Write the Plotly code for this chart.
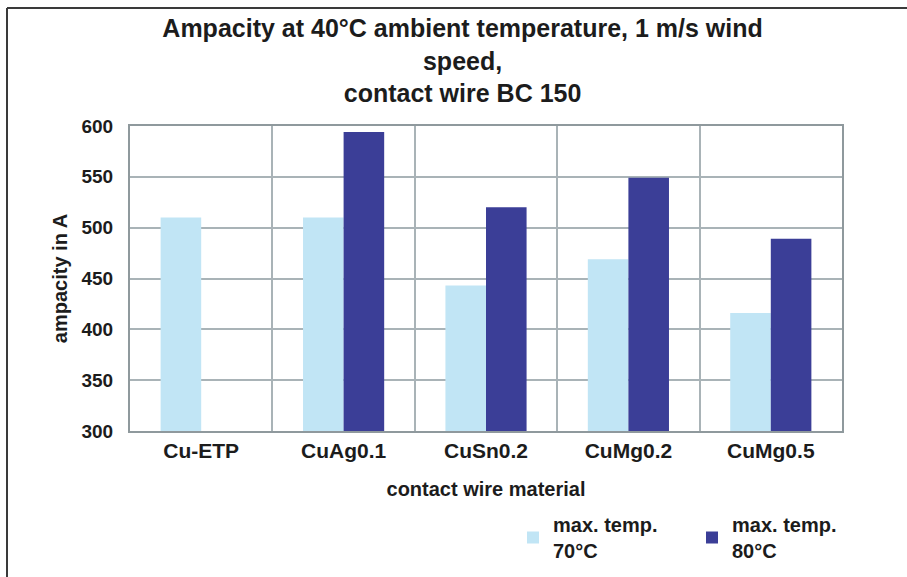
import plotly.graph_objects as go

categories = ["Cu-ETP", "CuAg0.1", "CuSn0.2", "CuMg0.2", "CuMg0.5"]
temp70 = [510, 510, 443, 469, 416]
temp80 = [None, 594, 520, 549, 489]
series_names = ["max. temp.<br>70°C", "max. temp.<br>80°C"]
y_ticks = [300, 350, 400, 450, 500, 550, 600]

FONT = "Liberation Sans, Arial, sans-serif"
TXT = "#1c1c1c"

fig = go.Figure()
fig.add_trace(go.Bar(x=categories, y=temp70, name=series_names[0],
                     marker=dict(color="#c1e5f5", line=dict(width=0))))
fig.add_trace(go.Bar(x=categories, y=temp80, name=series_names[1],
                     marker=dict(color="#3b3e97", line=dict(width=0))))

W, H = 907, 577
L, R, T, B = 130, 65, 126, 146
pw, ph = W - L - R, H - T - B

def px2x(px):
    return (px - L) / pw

def py2y(py):
    return (H - B - py) / ph

frame_x = px2x(7)
frame_y = py2y(8)

fig.update_layout(
    width=W, height=H,
    margin=dict(l=L, r=R, t=T, b=B, pad=0, autoexpand=False),
    paper_bgcolor="white", plot_bgcolor="white",
    font=dict(family=FONT, color=TXT, size=20),
    barmode="group", bargap=0.43, bargroupgap=0,
    title=dict(
        text="<b>Ampacity at 40°C ambient temperature, 1 m/s wind<br>speed,<br>contact wire BC 150</b>",
        x=0.51, xref="container", xanchor="center",
        y=1 - 37 / H, yref="container", yanchor="top",
        font=dict(size=25, family=FONT, color=TXT),
    ),
    xaxis=dict(
        type="category", tickson="boundaries", automargin=False,
        showgrid=True, gridcolor="#a9b3b7", gridwidth=1.5,
        showline=True, linecolor="#8f999d", linewidth=2, mirror=True,
        ticks="", ticklabelstandoff=0,
        tickfont=dict(size=21, family=FONT, color=TXT, weight="bold"),
        title=dict(text="<b>contact wire material</b>", standoff=21,
                   font=dict(size=20, family=FONT, color=TXT)),
    ),
    yaxis=dict(
        range=[300, 600], tickvals=y_ticks, automargin=False,
        showgrid=True, gridcolor="#a9b3b7", gridwidth=1.5,
        showline=True, linecolor="#8f999d", linewidth=2, mirror=True,
        ticks="outside", ticklen=11, tickcolor="rgba(0,0,0,0)",
        tickfont=dict(size=19, family=FONT, color=TXT, weight="bold"),
        title=dict(text="<b>ampacity in A</b>", standoff=8,
                   font=dict(size=20, family=FONT, color=TXT)),
        zeroline=False,
    ),
    legend=dict(
        orientation="h", x=px2x(513), y=py2y(505), xanchor="left", yanchor="top",
        font=dict(size=20, family=FONT, color=TXT, weight="bold"),
        entrywidth=134, entrywidthmode="pixels",
        bgcolor="rgba(0,0,0,0)", itemclick=False,
    ),
    shapes=[
        dict(type="line", xref="paper", yref="paper", x0=frame_x, x1=px2x(W + 5),
             y0=frame_y, y1=frame_y, line=dict(color="#3a3a3a", width=2)),
        dict(type="line", xref="paper", yref="paper", x0=frame_x, x1=frame_x,
             y0=frame_y, y1=py2y(H + 5), line=dict(color="#3a3a3a", width=2)),
    ],
)

fig.write_html("out.html")
